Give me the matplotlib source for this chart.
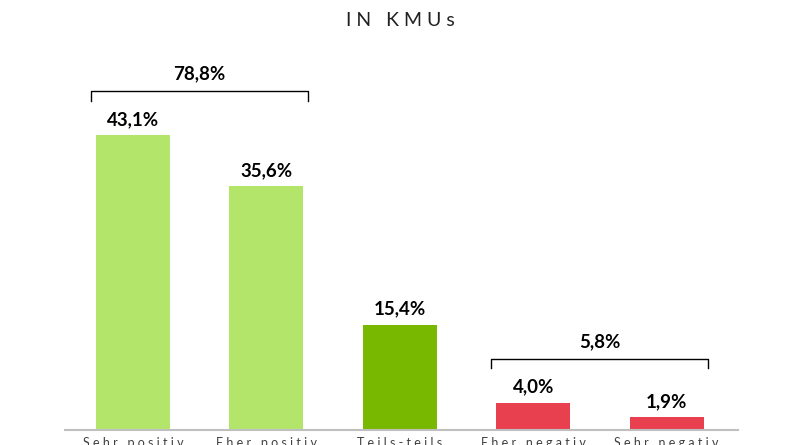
import matplotlib.pyplot as plt

categories = ["Sehr positiv", "Eher positiv", "Teils-teils", "Eher negativ", "Sehr negativ"]
values = [43.1, 35.6, 15.4, 4.0, 1.9]
colors = ["#B2E56A", "#B2E56A", "#78B800", "#E8404F", "#E8404F"]
groups = [(0, 1, "78,8%"), (3, 4, "5,8%")]
title = "I N   K M U s"


def spaced(s):
    return " ".join(s)


fig = plt.figure(figsize=(8, 4.45), dpi=100)
ax = fig.add_axes([65 / 800, 15 / 445, 673 / 800, 380 / 445])
x = list(range(len(values)))
ax.bar(x, values, width=0.555, color=colors)
ax.set_xlim(-0.51, 4.535)
ax.set_ylim(0, 380 / 6.845)

for s in ["top", "right", "left"]:
    ax.spines[s].set_visible(False)
ax.spines["bottom"].set_color("#BFBFBF")
ax.spines["bottom"].set_linewidth(1.5)
ax.set_yticks([])
ax.set_xticks([])

for xi, v in zip(x, values):
    ax.annotate(f"{v:.1f}%".replace(".", ","), (xi, v), xytext=(0, 5),
                textcoords="offset points", ha="center", va="bottom",
                fontsize=13.5, fontweight="bold", family="Lato", color="black")

# Klammern über Gruppen
for i0, i1, lab in groups:
    top = max(values[i0], values[i1])
    yb = top + 6.4
    xl, xr = i0 - 0.315, i1 + 0.31
    ax.plot([xl, xl, xr, xr], [yb - 1.4, yb, yb, yb - 1.4], color="black", lw=1, clip_on=False)
    ax.text((xl + xr) / 2, yb + 1.3, lab, ha="center", va="bottom",
            fontsize=13.5, fontweight="bold", family="Lato")

for xi, c in zip(x, categories):
    ax.annotate(spaced(c), (xi, 0), xytext=(0, -5), textcoords="offset points",
                ha="center", va="top", fontsize=9, color="#404040", family="Lato",
                annotation_clip=False)

fig.text(0.5, 1 - 21 / 445, title, ha="center", va="center", fontsize=14,
         family="Lato", color="#202020")

fig.savefig("out.png", dpi=100)
